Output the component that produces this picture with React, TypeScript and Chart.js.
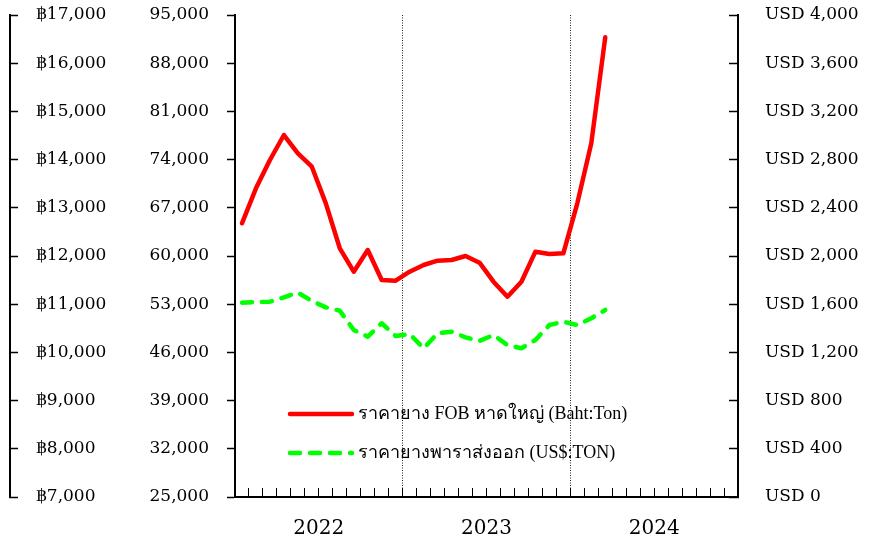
import React, { useEffect, useRef } from 'react';
import { Chart, registerables } from 'chart.js';

Chart.register(...registerables);

// Monthly categories (Jan 2022 – Dec 2024)
const months = [
  'Jan 2022', 'Feb 2022', 'Mar 2022', 'Apr 2022', 'May 2022', 'Jun 2022',
  'Jul 2022', 'Aug 2022', 'Sep 2022', 'Oct 2022', 'Nov 2022', 'Dec 2022',
  'Jan 2023', 'Feb 2023', 'Mar 2023', 'Apr 2023', 'May 2023', 'Jun 2023',
  'Jul 2023', 'Aug 2023', 'Sep 2023', 'Oct 2023', 'Nov 2023', 'Dec 2023',
  'Jan 2024', 'Feb 2024', 'Mar 2024', 'Apr 2024', 'May 2024', 'Jun 2024',
  'Jul 2024', 'Aug 2024', 'Sep 2024', 'Oct 2024', 'Nov 2024', 'Dec 2024',
];

const yearLabels = ['2022', '2023', '2024'];

// ราคายาง FOB หาดใหญ่ (Baht:Ton)
const fobBahtPerTon = [
  64750, 69830, 73940, 77570, 74920, 72970, 67650, 61120, 57720, 60870, 56520, 56410,
  57720, 58690, 59320, 59420, 60000, 59030, 56270, 54090, 56270, 60630, 60290, 60390,
  67650, 76370, 91760,
];

// ราคายางพาราส่งออก (US$:TON)
const exportUsdPerTon = [
  1613, 1618, 1621, 1657, 1696, 1627, 1574, 1546, 1386, 1330, 1442, 1336,
  1353, 1234, 1359, 1372, 1325, 1295, 1344, 1261, 1234, 1303, 1427, 1455,
  1427, 1483, 1552,
];

const seriesLabels = [
  'ราคายาง FOB หาดใหญ่ (Baht:Ton)',
  'ราคายางพาราส่งออก (US$:TON)',
];

// Axis ranges
const bahtAxis = { min: 7000, max: 17000, step: 1000 };
const tonAxis = { min: 25000, max: 95000, step: 7000 };
const usdAxis = { min: 0, max: 4000, step: 400 };

const FONT = '"DejaVu Serif", "Liberation Serif", serif';
const LEGEND_FONT = '18px "Liberation Serif", "DejaVu Serif", serif';

const insideLegend = {
  id: 'insideLegend',
  afterDatasetsDraw(chart: any) {
    const { ctx, chartArea } = chart;
    const x0 = chartArea.left + 55;
    const rows = [chartArea.bottom - 83, chartArea.bottom - 44];
    chart.data.datasets.forEach((ds: any, i: number) => {
      const y = rows[i];
      ctx.save();
      ctx.strokeStyle = ds.borderColor;
      ctx.lineWidth = ds.borderWidth;
      ctx.lineCap = ds.borderCapStyle || 'butt';
      ctx.setLineDash(ds.borderDash || []);
      ctx.beginPath();
      ctx.moveTo(x0, y);
      ctx.lineTo(x0 + 62, y);
      ctx.stroke();
      ctx.setLineDash([]);
      ctx.fillStyle = '#000';
      ctx.font = LEGEND_FONT;
      ctx.textBaseline = 'middle';
      ctx.textAlign = 'left';
      ctx.fillText(ds.label, x0 + 68, y);
      ctx.restore();
    });
  },
};

const fixVertical = (width: number) => (s: any) => {
  s.width = width;
  s.paddingTop = 8;
  s.paddingBottom = 8;
};

export default function App() {
  const canvasRef = useRef<HTMLCanvasElement | null>(null);

  useEffect(() => {
    document.body.style.margin = '0';
    const canvas = canvasRef.current;
    if (!canvas) return;

    const fmt = (v: any) => Number(v).toLocaleString('en-US');

    const chart = new Chart(canvas, {
      type: 'line',
      data: {
        labels: months,
        datasets: [
          {
            label: seriesLabels[0],
            data: fobBahtPerTon,
            yAxisID: 'y',
            borderColor: '#ff0000',
            backgroundColor: '#ff0000',
            borderWidth: 4.5,
            borderCapStyle: 'round',
            borderJoinStyle: 'round',
            pointRadius: 0,
            tension: 0,
            fill: false,
          },
          {
            label: seriesLabels[1],
            data: exportUsdPerTon,
            yAxisID: 'yR',
            borderColor: '#00ff00',
            backgroundColor: '#00ff00',
            borderWidth: 4.5,
            borderDash: [10, 10],
            borderCapStyle: 'round',
            borderJoinStyle: 'round',
            pointRadius: 0,
            tension: 0,
            fill: false,
          },
        ],
      },
      options: {
        responsive: false,
        animation: false,
        devicePixelRatio: 1,
        layout: { padding: { top: 15, left: 0, right: 0, bottom: 0 } },
        plugins: {
          legend: { display: false },
          tooltip: { enabled: false },
        },
        scales: {
          x: {
            type: 'category',
            offset: true,
            grid: {
              offset: true,
              drawOnChartArea: true,
              drawTicks: true,
              tickLength: -9,
              lineWidth: 1,
              color: (c: any) => (c.index === 12 || c.index === 24 ? '#222' : 'rgba(0,0,0,0)'),
              tickColor: '#000',
              tickWidth: 1,
            },
            border: { display: true, color: '#000', width: 2, dash: [1, 1.5] },
            ticks: {
              autoSkip: false,
              maxRotation: 0,
              minRotation: 0,
              labelOffset: -7,
              padding: 29,
              color: '#000',
              font: { family: FONT, size: 20 },
              callback: (_v: any, i: number) => (i % 12 === 6 ? yearLabels[Math.floor(i / 12)] : ''),
            },
            afterFit: (s: any) => {
              s.height = 42;
              s.paddingLeft = 0;
              s.paddingRight = 0;
            },
          },
          yB: {
            type: 'linear',
            position: 'left',
            weight: 10,
            display: true,
            min: bahtAxis.min,
            max: bahtAxis.max,
            grid: { drawOnChartArea: false, drawTicks: true, tickLength: -8, tickColor: '#000', tickWidth: 1.5 },
            border: { display: true, color: '#000', width: 2 },
            ticks: {
              stepSize: bahtAxis.step,
              mirror: true,
              padding: 26,
              color: '#000',
              font: { family: FONT, size: 17 },
              callback: (v: any) => '฿' + fmt(v),
            },
            afterFit: fixVertical(10),
          },
          y: {
            type: 'linear',
            position: 'left',
            weight: 1,
            min: tonAxis.min,
            max: tonAxis.max,
            grid: { drawOnChartArea: false, drawTicks: true, tickLength: 8, tickColor: '#000', tickWidth: 1.5 },
            border: { display: true, color: '#000', width: 2 },
            ticks: {
              stepSize: tonAxis.step,
              padding: 18,
              color: '#000',
              font: { family: FONT, size: 17 },
              callback: (v: any) => fmt(v),
            },
            afterFit: fixVertical(225),
          },
          yR: {
            type: 'linear',
            position: 'right',
            min: usdAxis.min,
            max: usdAxis.max,
            grid: { drawOnChartArea: false, drawTicks: true, tickLength: -9, tickColor: '#000', tickWidth: 1.5 },
            border: { display: true, color: '#000', width: 2 },
            ticks: {
              stepSize: usdAxis.step,
              padding: 36,
              color: '#000',
              font: { family: FONT, size: 17 },
              callback: (v: any) => 'USD ' + fmt(v),
            },
            afterFit: fixVertical(134),
          },
        },
      } as any,
      plugins: [insideLegend],
    });

    return () => chart.destroy();
  }, []);

  return (
    <canvas
      ref={canvasRef}
      width={872}
      height={539}
      style={{ display: 'block', width: 872, height: 539 }}
    />
  );
}
